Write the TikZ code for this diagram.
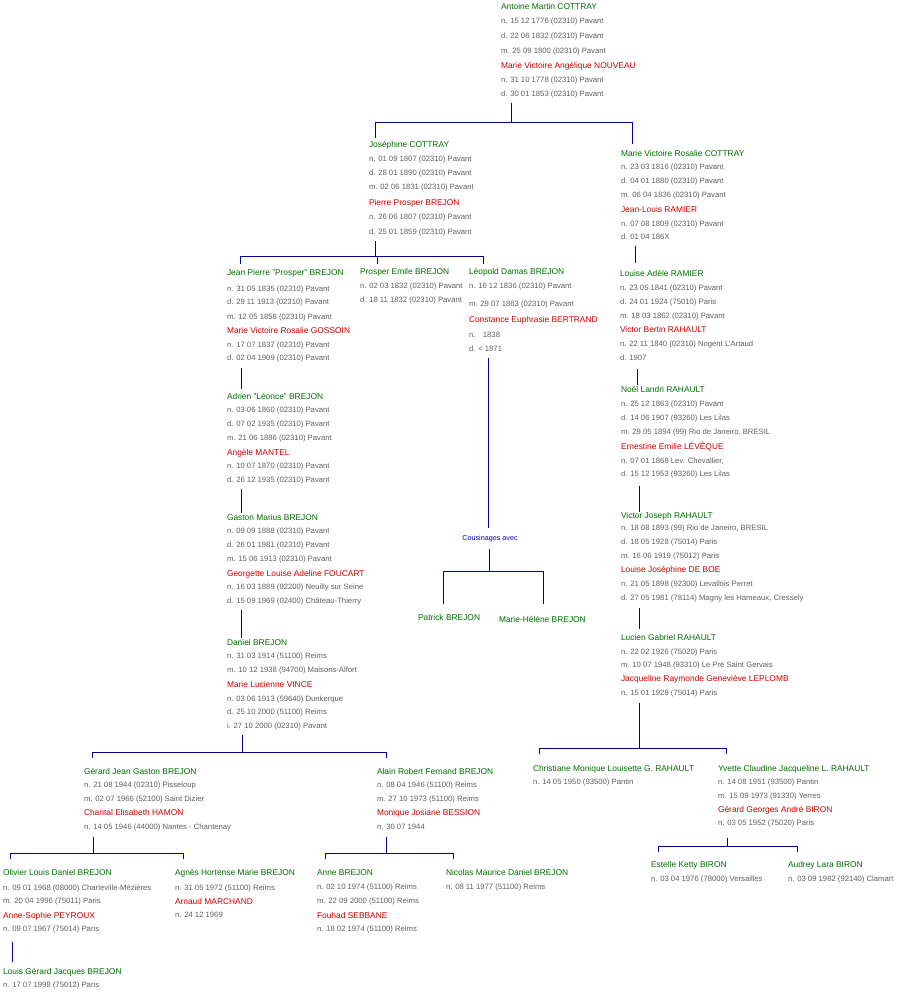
\documentclass[tikz,border=0pt]{standalone}
\usepackage{fontspec}
\setmainfont{Liberation Sans}
\definecolor{gn}{HTML}{006E00}
\definecolor{rd}{HTML}{CC0000}
\definecolor{gy}{HTML}{606060}
\definecolor{ln}{HTML}{000099}
\definecolor{cb}{HTML}{0000CC}
\tikzset{
  base/.style={anchor=base west, inner sep=0pt, outer sep=0pt},
  nm/.style={base, text=gn, font=\fontsize{8.4}{10}\selectfont},
  sp/.style={base, text=rd, font=\fontsize{8.4}{10}\selectfont},
  dt/.style={base, text=gy, font=\fontsize{7.7}{9}\selectfont},
  cous/.style={anchor=center, inner sep=0pt, text=cb, font=\fontsize{7.2}{9}\selectfont},
  lk/.style={draw=ln, line width=0.9pt}
}
\begin{document}
\begin{tikzpicture}[x=1pt,y=-1pt]
\fill[white] (0,0) rectangle (900,1000);
\useasboundingbox (0,0) rectangle (900,1000);
% ---- Antoine
\node[nm] (A1) at (501,10) {Antoine Martin COTTRAY};
\node[dt] (A2) at (501,24) {n. 15 12 1776 (02310) Pavant};
\node[dt] (A3) at (501,39) {d. 22 06 1832 (02310) Pavant};
\node[dt] (A4) at (501,54) {m. 25 09 1800 (02310) Pavant};
\node[sp] (A5) at (501,69) {Marie Victoire Angélique NOUVEAU};
\node[dt] (A6) at (501,83) {n. 31 10 1778 (02310) Pavant};
\node[dt] (A7) at (501,97) {d. 30 01 1853 (02310) Pavant};
% ---- Joséphine
\node[nm] (B1) at (369,148) {Joséphine COTTRAY};
\node[dt] (B2) at (369,162) {n. 01 09 1807 (02310) Pavant};
\node[dt] (B3) at (369,176) {d. 28 01 1890 (02310) Pavant};
\node[dt] (B4) at (369,190) {m. 02 06 1831 (02310) Pavant};
\node[sp] (B5) at (369,206) {Pierre Prosper BREJON};
\node[dt] (B6) at (369,220) {n. 26 06 1807 (02310) Pavant};
\node[dt] (B7) at (369,235) {d. 25 01 1859 (02310) Pavant};
% ---- Marie Victoire Rosalie COTTRAY
\node[nm] (C1) at (621,157) {Marie Victoire Rosalie COTTRAY};
\node[dt] (C2) at (621,170) {n. 23 03 1816 (02310) Pavant};
\node[dt] (C3) at (621,184) {d. 04 01 1880 (02310) Pavant};
\node[dt] (C4) at (621,198) {m. 06 04 1836 (02310) Pavant};
\node[sp] (C5) at (621,213) {Jean-Louis RAMIER};
\node[dt] (C6) at (621,226) {n. 07 08 1809 (02310) Pavant};
\node[dt] (C7) at (621,240) {d. 01 04 186X};
% ---- Jean Pierre
\node[nm] (D1) at (227,275) {Jean Pierre "Prosper" BREJON};
\node[dt] (D2) at (227,291) {n. 31 05 1835 (02310) Pavant};
\node[dt] (D3) at (227,304) {d. 29 11 1913 (02310) Pavant};
\node[dt] (D4) at (227,319) {m. 12 05 1858 (02310) Pavant};
\node[sp] (D5) at (227,333) {Marie Victoire Rosalie GOSSOIN};
\node[dt] (D6) at (227,347) {n. 17 07 1837 (02310) Pavant};
\node[dt] (D7) at (227,360) {d. 02 04 1909 (02310) Pavant};
% ---- Prosper Emile
\node[nm] (E1) at (360,274) {Prosper Emile BREJON};
\node[dt] (E2) at (360,288) {n. 02 03 1832 (02310) Pavant};
\node[dt] (E3) at (360,302) {d. 18 11 1832 (02310) Pavant};
% ---- Léopold
\node[nm] (F1) at (469,274) {Léopold Damas BREJON};
\node[dt] (F2) at (469,288) {n. 16 12 1836 (02310) Pavant};
\node[dt] (F3) at (469,306) {m. 29 07 1863 (02310) Pavant};
\node[sp] (F4) at (469,322) {Constance Euphrasie BERTRAND};
\node[dt] (F5) at (469,337) {n.\hspace{7.5pt}1838};
\node[dt] (F6) at (469,351) {d. < 1871};
% ---- Louise Adèle
\node[nm] (G1) at (620,276) {Louise Adèle RAMIER};
\node[dt] (G2) at (620,290) {n. 23 05 1841 (02310) Pavant};
\node[dt] (G3) at (620,304) {d. 24 01 1924 (75010) Paris};
\node[dt] (G4) at (620,318) {m. 18 03 1862 (02310) Pavant};
\node[sp] (G5) at (620,332) {Victor Bertin RAHAULT};
\node[dt] (G6) at (620,346) {n. 22 11 1840 (02310) Nogent L'Artaud};
\node[dt] (G7) at (620,360) {d. 1907};
% ---- Adrien
\node[nm] (H1) at (227,399) {Adrien "Léonce" BREJON};
\node[dt] (H2) at (227,412) {n. 03 06 1860 (02310) Pavant};
\node[dt] (H3) at (227,426) {d. 07 02 1935 (02310) Pavant};
\node[dt] (H4) at (227,440) {m. 21 06 1886 (02310) Pavant};
\node[sp] (H5) at (227,455) {Angèle MANTEL};
\node[dt] (H6) at (227,468) {n. 10 07 1870 (02310) Pavant};
\node[dt] (H7) at (227,482) {d. 26 12 1935 (02310) Pavant};
% ---- Noël
\node[nm] (I1) at (621,392) {Noël Landri RAHAULT};
\node[dt] (I2) at (621,406) {n. 25 12 1863 (02310) Pavant};
\node[dt] (I3) at (621,420) {d. 14 06 1907 (93260) Les Lilas};
\node[dt] (I4) at (621,434) {m. 29 05 1894 (99) Rio de Janeiro, BRESIL};
\node[sp] (I5) at (621,449) {Ernestine Emilie LÉVÊQUE};
\node[dt] (I6) at (621,463) {n. 07 01 1868 Lev. Chevallier,};
\node[dt] (I7) at (621,476) {d. 15 12 1953 (93260) Les Lilas};
% ---- Gaston
\node[nm] (J1) at (227,520) {Gaston Marius BREJON};
\node[dt] (J2) at (227,533) {n. 09 09 1888 (02310) Pavant};
\node[dt] (J3) at (227,547) {d. 26 01 1981 (02310) Pavant};
\node[dt] (J4) at (227,561) {m. 15 06 1913 (02310) Pavant};
\node[sp] (J5) at (227,576) {Georgette Louise Adeline FOUCART};
\node[dt] (J6) at (227,589) {n. 16 03 1889 (92200) Neuilly sur Seine};
\node[dt] (J7) at (227,603) {d. 15 09 1969 (02400) Château-Thierry};
% ---- Victor Joseph
\node[nm] (K1) at (621,518) {Victor Joseph RAHAULT};
\node[dt] (K2) at (621,530) {n. 18 08 1893 (99) Rio de Janeiro, BRESIL};
\node[dt] (K3) at (621,544) {d. 18 05 1928 (75014) Paris};
\node[dt] (K4) at (621,558) {m. 16 06 1919 (75012) Paris};
\node[sp] (K5) at (621,572) {Louise Joséphine DE BOE};
\node[dt] (K6) at (621,586) {n. 21 05 1898 (92300) Levallois Perret};
\node[dt] (K7) at (621,600) {d. 27 05 1981 (78114) Magny les Hameaux, Cressely};
% ---- Cousinages
\node[cous] (Q0) at (490,539) {Cousinages avec};
\node[nm] (Q1) at (418,620) {Patrick BREJON};
\node[nm] (Q2) at (499,622) {Marie-Hélène BREJON};
% ---- Daniel
\node[nm] (L1) at (227,645) {Daniel BREJON};
\node[dt] (L2) at (227,658) {n. 31 03 1914 (51100) Reims};
\node[dt] (L3) at (227,672) {m. 10 12 1938 (94700) Maisons-Alfort};
\node[sp] (L4) at (227,687) {Marie Lucienne VINCE};
\node[dt] (L5) at (227,701) {n. 03 06 1913 (59640) Dunkerque};
\node[dt] (L6) at (227,714) {d. 25 10 2000 (51100) Reims};
\node[dt] (L7) at (227,728) {i. 27 10 2000 (02310) Pavant};
% ---- Lucien
\node[nm] (M1) at (621,640) {Lucien Gabriel RAHAULT};
\node[dt] (M2) at (621,654) {n. 22 02 1926 (75020) Paris};
\node[dt] (M3) at (621,667) {m. 10 07 1948 (93310) Le Pré Saint Gervais};
\node[sp] (M4) at (621,681) {Jacqueline Raymonde Geneviève LEPLOMB};
\node[dt] (M5) at (621,695) {n. 15 01 1928 (75014) Paris};
% ---- Gérard
\node[nm] (N1) at (84,774) {Gérard Jean Gaston BREJON};
\node[dt] (N2) at (84,787) {n. 21 08 1944 (02310) Pisseloup};
\node[dt] (N3) at (84,801) {m. 02 07 1966 (52100) Saint Dizier};
\node[sp] (N4) at (84,815) {Chantal Elisabeth HAMON};
\node[dt] (N5) at (84,829) {n. 14 05 1946 (44000) Nantes - Chantenay};
% ---- Alain
\node[nm] (O1) at (377,774) {Alain Robert Fernand BREJON};
\node[dt] (O2) at (377,787) {n. 08 04 1946 (51100) Reims};
\node[dt] (O3) at (377,801) {m. 27 10 1973 (51100) Reims};
\node[sp] (O4) at (377,815) {Monique Josiane BESSION};
\node[dt] (O5) at (377,829) {n. 30 07 1944};
% ---- Christiane
\node[nm] (P1) at (533,771) {Christiane Monique Louisette G. RAHAULT};
\node[dt] (P2) at (533,784) {n. 14 05 1950 (93500) Pantin};
% ---- Yvette
\node[nm] (R1) at (718,771) {Yvette Claudine Jacqueline L. RAHAULT};
\node[dt] (R2) at (718,784) {n. 14 08 1951 (93500) Pantin};
\node[dt] (R3) at (718,798) {m. 15 09 1973 (91330) Yerres};
\node[sp] (R4) at (718,812) {Gérard Georges André BIRON};
\node[dt] (R5) at (718,825) {n. 03 05 1952 (75020) Paris};
% ---- Olivier
\node[nm] (S1) at (3,875) {Olivier Louis Daniel BREJON};
\node[dt] (S2) at (3,890) {n. 09 01 1968 (08000) Charleville-Mézières};
\node[dt] (S3) at (3,903) {m. 20 04 1996 (75011) Paris};
\node[sp] (S4) at (3,918) {Anne-Sophie PEYROUX};
\node[dt] (S5) at (3,931) {n. 09 07 1967 (75014) Paris};
% ---- Agnès
\node[nm] (T1) at (175,875) {Agnès Hortense Marie BREJON};
\node[dt] (T2) at (175,890) {n. 31 05 1972 (51100) Reims};
\node[sp] (T3) at (175,904) {Arnaud MARCHAND};
\node[dt] (T4) at (175,917) {n. 24 12 1969};
% ---- Anne
\node[nm] (U1) at (317,875) {Anne BREJON};
\node[dt] (U2) at (317,889) {n. 02 10 1974 (51100) Reims};
\node[dt] (U3) at (317,903) {m. 22 09 2000 (51100) Reims};
\node[sp] (U4) at (317,918) {Fouhad SEBBANE};
\node[dt] (U5) at (317,931) {n. 18 02 1974 (51100) Reims};
% ---- Nicolas
\node[nm] (V1) at (446,875) {Nicolas Maurice Daniel BREJON};
\node[dt] (V2) at (446,889) {n. 08 11 1977 (51100) Reims};
% ---- Estelle, Audrey
\node[nm] (W1) at (651,867) {Estelle Ketty BIRON};
\node[dt] (W2) at (651,881) {n. 03 04 1976 (78000) Versailles};
\node[nm] (X1) at (788,867) {Audrey Lara BIRON};
\node[dt] (X2) at (788,881) {n. 03 09 1982 (92140) Clamart};
% ---- Louis
\node[nm] (Y1) at (3,974) {Louis Gérard Jacques BREJON};
\node[dt] (Y2) at (3,987) {n. 17 07 1998 (75012) Paris};

% ================= connectors
\coordinate (a0) at (511,103); \coordinate (a1) at (511,122);
\coordinate (aL) at (375,122); \coordinate (aR) at (632,122);
\coordinate (aLd) at (375,138); \coordinate (aRd) at (632,144);
\draw[lk] (a0) -- (a1) (aLd) -- (aL) -- (aR) -- (aRd);
\coordinate (b0) at (375,241); \coordinate (b1) at (375,256);
\coordinate (bL) at (240,256); \coordinate (bR) at (483,256);
\coordinate (bLd) at (240,264); \coordinate (bRd) at (483,264);
\coordinate (bM) at (377,256); \coordinate (bMd) at (377,264);
\draw[lk] (b0) -- (b1) (bLd) -- (bL) -- (bR) -- (bRd) (bM) -- (bMd);
\coordinate (c0) at (635,246); \coordinate (c1) at (635,263);
\draw[lk] (c0) -- (c1);
\coordinate (d0) at (241,368); \coordinate (d1) at (241,389);
\draw[lk] (d0) -- (d1);
\coordinate (h0) at (241,489); \coordinate (h1) at (241,513);
\draw[lk] (h0) -- (h1);
\coordinate (j0) at (241,610); \coordinate (j1) at (241,638);
\draw[lk] (j0) -- (j1);
\coordinate (f0) at (488,358); \coordinate (f1) at (488,528);
\draw[lk] (f0) -- (f1);
\coordinate (q0) at (489,549); \coordinate (q1) at (489,571);
\coordinate (qL) at (443,571); \coordinate (qR) at (543,571);
\coordinate (qLd) at (443,604); \coordinate (qRd) at (543,604);
\draw[lk] (q0) -- (q1) (qLd) -- (qL) -- (qR) -- (qRd);
\coordinate (g0) at (637,369); \coordinate (g1) at (637,385);
\draw[lk] (g0) -- (g1);
\coordinate (i0) at (639,486); \coordinate (i1) at (639,512);
\draw[lk] (i0) -- (i1);
\coordinate (k0) at (639,608); \coordinate (k1) at (639,629);
\draw[lk] (k0) -- (k1);
\coordinate (m0) at (639,703); \coordinate (m1) at (639,748);
\coordinate (mL) at (539,748); \coordinate (mR) at (726,748);
\coordinate (mLd) at (539,754); \coordinate (mRd) at (726,754);
\draw[lk] (m0) -- (m1) (mLd) -- (mL) -- (mR) -- (mRd);
\coordinate (r0) at (727,838); \coordinate (r1) at (727,846);
\coordinate (rL) at (658,846); \coordinate (rR) at (797,846);
\coordinate (rLd) at (658,852); \coordinate (rRd) at (797,852);
\draw[lk] (r0) -- (r1) (rLd) -- (rL) -- (rR) -- (rRd);
\coordinate (l0) at (242,735); \coordinate (l1) at (242,752);
\coordinate (lL) at (92,752); \coordinate (lR) at (386,752);
\coordinate (lLd) at (92,758); \coordinate (lRd) at (386,758);
\draw[lk] (l0) -- (l1) (lLd) -- (lL) -- (lR) -- (lRd);
\coordinate (n0) at (93,837); \coordinate (n1) at (93,853);
\coordinate (nL) at (10,853); \coordinate (nR) at (183,853);
\coordinate (nLd) at (10,859); \coordinate (nRd) at (183,859);
\draw[lk] (n0) -- (n1) (nLd) -- (nL) -- (nR) -- (nRd);
\coordinate (o0) at (386,837); \coordinate (o1) at (386,853);
\coordinate (oL) at (325,853); \coordinate (oR) at (453,853);
\coordinate (oLd) at (325,859); \coordinate (oRd) at (453,859);
\draw[lk] (o0) -- (o1) (oLd) -- (oL) -- (oR) -- (oRd);
\coordinate (s0) at (12,942); \coordinate (s1) at (12,962);
\draw[lk] (s0) -- (s1);
\end{tikzpicture}
\end{document}
